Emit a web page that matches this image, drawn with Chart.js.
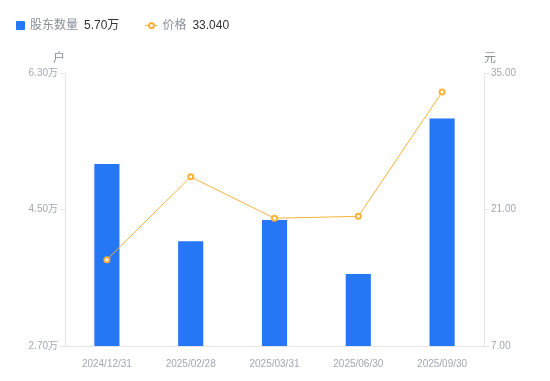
<!DOCTYPE html>
<html lang="zh-CN">
<head>
  <meta charset="UTF-8" />
  <title>股东数量与价格</title>
  <script src="https://cdn.jsdelivr.net/npm/chart.js"></script>
  <style>
    html, body {
      margin: 0;
      padding: 0;
      background: #fff;
      font-family: 'Liberation Sans', 'Noto Sans CJK SC', sans-serif;
    }
    #wrap {
      position: relative;
      width: 550px;
      height: 381px;
    }
    #legend {
      position: absolute;
      left: 16px;
      top: 16px;
      font-size: 12px;
      display: flex;
      align-items: center;
      line-height: 18px;
    }
    .item { display: flex; align-items: center; margin-right: 26px; }
    .sq { width: 9px; height: 9px; background: #2577f5; border-radius: 1px; margin-right: 5px; }
    .ln { position: relative; width: 12px; height: 9px; margin-right: 5px; }
    .ln::before { content: ''; position: absolute; left: 0; right: 0; top: 4px; height: 1px; background: #f7b23b; }
    .ln::after { content: ''; position: absolute; left: 3px; top: 1px; width: 3px; height: 3px; border: 2px solid #f7b23b; border-radius: 50%; background: #fff; }
    .name { color: #8a8f99; margin-right: 6px; }
    .val { color: #333; }
  </style>
</head>
<body>
  <div id="wrap">
    <div id="legend"></div>
    <canvas id="chart" width="550" height="381"></canvas>
  </div>

  <script>
    // 数据
    const dates = ['2024/12/31', '2025/02/28', '2025/03/31', '2025/06/30', '2025/09/30'];
    const holders = [5.10, 4.08, 4.36, 3.65, 5.70];   // 万户
    const prices = [15.85, 24.35, 20.10, 20.30, 33.04]; // 元
    const holderTicks = [2.70, 4.50, 6.30];
    const priceTicks = [7.00, 21.00, 35.00];

    const blue = '#2577f5';
    const orange = '#f7b23b';
    const tickColor = '#a3a7b3';
    const lineColor = '#e3e5ea';
    const tickFont = { family: "'Liberation Sans', 'Noto Sans CJK SC', sans-serif", size: 10 };

    // 图例
    document.getElementById('legend').innerHTML =
      '<div class="item"><span class="sq"></span><span class="name">股东数量</span><span class="val">' +
      holders[holders.length - 1].toFixed(2) + '万</span></div>' +
      '<div class="item"><span class="ln"></span><span class="name">价格</span><span class="val">' +
      prices[prices.length - 1].toFixed(3) + '</span></div>';

    // 轴单位
    const unitPlugin = {
      id: 'units',
      afterDraw(chart) {
        const c = chart.ctx;
        const a = chart.chartArea;
        c.save();
        c.font = '12px "Noto Sans CJK SC", sans-serif';
        c.fillStyle = '#8a8f99';
        c.textBaseline = 'middle';
        c.textAlign = 'center';
        c.fillText('户', a.left - 6, a.top - 16);
        c.fillText('元', a.right + 6, a.top - 16);
        c.restore();
      }
    };

    const ctx = document.getElementById('chart').getContext('2d');
    new Chart(ctx, {
      data: {
        labels: dates,
        datasets: [
          {
            type: 'line',
            label: '价格',
            data: prices,
            yAxisID: 'y1',
            borderColor: orange,
            borderWidth: 1,
            pointRadius: 2.5,
            pointBorderWidth: 2,
            pointBackgroundColor: '#fff',
            pointBorderColor: orange,
            tension: 0,
            order: 0
          },
          {
            type: 'bar',
            label: '股东数量',
            data: holders,
            yAxisID: 'y',
            backgroundColor: blue,
            categoryPercentage: 1,
            barPercentage: 0.3,
            order: 1
          }
        ]
      },
      options: {
        responsive: false,
        animation: false,
        layout: { padding: { top: 73, bottom: 7, left: 0, right: 0 } },
        plugins: {
          legend: { display: false },
          tooltip: { enabled: false }
        },
        scales: {
          x: {
            offset: true,
            grid: { display: false },
            border: { color: lineColor },
            ticks: { color: tickColor, font: tickFont, padding: 4, maxRotation: 0 }
          },
          y: {
            position: 'left',
            min: holderTicks[0],
            max: holderTicks[holderTicks.length - 1],
            afterBuildTicks: s => { s.ticks = holderTicks.map(v => ({ value: v })); },
            afterFit: s => { s.width = 65; },
            grid: { drawOnChartArea: false, tickLength: 5, color: lineColor },
            border: { color: lineColor },
            ticks: { color: tickColor, font: tickFont, padding: 2, callback: v => v.toFixed(2) + '万' }
          },
          y1: {
            position: 'right',
            min: priceTicks[0],
            max: priceTicks[priceTicks.length - 1],
            afterBuildTicks: s => { s.ticks = priceTicks.map(v => ({ value: v })); },
            afterFit: s => { s.width = 66; },
            grid: { drawOnChartArea: false, tickLength: 5, color: lineColor },
            border: { color: lineColor },
            ticks: { color: tickColor, font: tickFont, padding: 2, callback: v => v.toFixed(2) }
          }
        }
      },
      plugins: [unitPlugin]
    });
  </script>
</body>
</html>
